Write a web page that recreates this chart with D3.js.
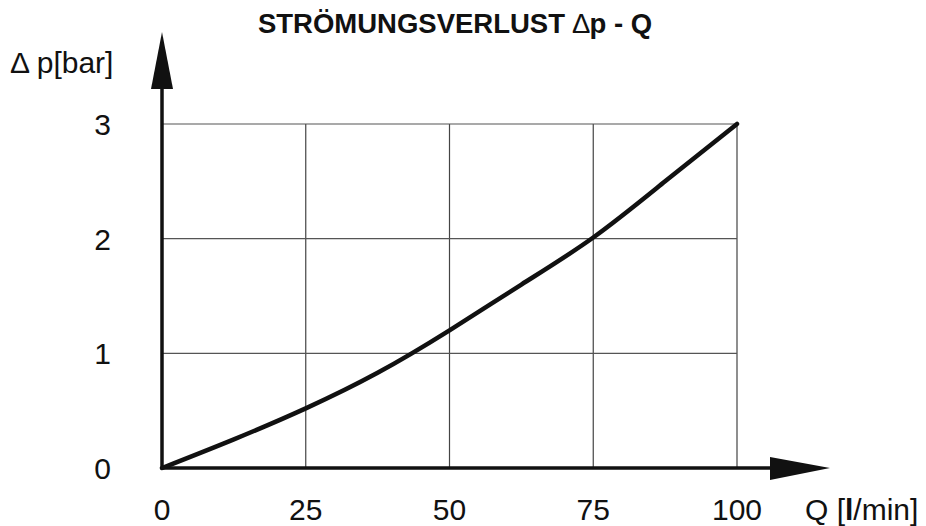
<!DOCTYPE html>
<html>
<head>
<meta charset="utf-8">
<script src="https://cdn.jsdelivr.net/npm/d3@7"></script>
<style>
  body { margin: 0; background: #fff; }
  text { font-family: "Liberation Sans", Arial, sans-serif; fill: #111; }
</style>
</head>
<body>
<div id="chart"></div>
<script>
const w = 926;
const h = 526;

// data
const flowQ = [0, 12.5, 25, 37.5, 50, 62.5, 75, 87.5, 100];
const deltaP = [0, 0.25, 0.52, 0.83, 1.2, 1.6, 2.01, 2.5, 3.0];
const xTicks = [0, 25, 50, 75, 100];
const yTicks = [0, 1, 2, 3];

let svg = d3.select("#chart")
            .append("svg")
            .attr("width", w)
            .attr("height", h);

// scales
let x = d3.scaleLinear().domain([0, 100]).range([162, 737]);
let y = d3.scaleLinear().domain([0, 3]).range([468, 124]);

// grid
svg.append("g")
    .selectAll("line")
    .data(xTicks.slice(1))
    .enter()
    .append("line")
    .attr("x1", d => x(d)).attr("x2", d => x(d))
    .attr("y1", y(0)).attr("y2", y(3))
    .attr("stroke", "#444")
    .attr("stroke-width", 1.2);

svg.append("g")
    .selectAll("line")
    .data(yTicks.slice(1))
    .enter()
    .append("line")
    .attr("x1", x(0)).attr("x2", x(100))
    .attr("y1", d => y(d)).attr("y2", d => y(d))
    .attr("stroke", "#555")
    .attr("stroke-width", 1.2);

// axes with arrows
svg.append("line")
    .attr("x1", x(0)).attr("x2", 772)
    .attr("y1", y(0)).attr("y2", y(0))
    .attr("stroke", "#111").attr("stroke-width", 3.5);
svg.append("path")
    .attr("d", "M770," + (y(0) - 11) + " L830," + y(0) + " L770," + (y(0) + 12) + " Z")
    .attr("fill", "#111");

svg.append("line")
    .attr("x1", x(0)).attr("x2", x(0))
    .attr("y1", y(0) + 1.5).attr("y2", 87)
    .attr("stroke", "#111").attr("stroke-width", 3.5);
svg.append("path")
    .attr("d", "M" + (x(0) - 11) + ",89 L" + x(0) + ",32 L" + (x(0) + 11) + ",89 Z")
    .attr("fill", "#111");

// tick labels
svg.append("g")
    .selectAll("text")
    .data(xTicks)
    .enter()
    .append("text")
    .attr("x", d => x(d))
    .attr("y", 520)
    .attr("text-anchor", "middle")
    .attr("font-size", "30px")
    .text(d => d);

svg.append("g")
    .selectAll("text")
    .data(yTicks)
    .enter()
    .append("text")
    .attr("x", 111)
    .attr("y", d => y(d) + 11)
    .attr("text-anchor", "end")
    .attr("font-size", "30px")
    .text(d => d);

// curve
let line = d3.line()
    .x((d, i) => x(flowQ[i]))
    .y(d => y(d))
    .curve(d3.curveNatural);

svg.append("path")
    .datum(deltaP)
    .attr("d", line)
    .attr("fill", "none")
    .attr("stroke", "#111")
    .attr("stroke-width", 4.5)
    .attr("stroke-linecap", "round");

// titles
let title = svg.append("text")
    .attr("x", 455)
    .attr("y", 33)
    .attr("text-anchor", "middle")
    .attr("font-size", "27.5px")
    .attr("font-weight", "bold")
    .text("STRÖMUNGSVERLUST ");
title.append("tspan").attr("font-weight", "normal").text("\u2206");
title.append("tspan").text("p - Q");

svg.append("text")
    .attr("x", 10)
    .attr("y", 73)
    .attr("font-size", "30px")
    .text("\u0394 p[bar]");

let qLabel = svg.append("text")
    .attr("x", 805)
    .attr("y", 520)
    .attr("font-size", "30px");
qLabel.append("tspan").text("Q [");
qLabel.append("tspan").attr("font-weight", "bold").text("l");
qLabel.append("tspan").text("/min]");
</script>
</body>
</html>
